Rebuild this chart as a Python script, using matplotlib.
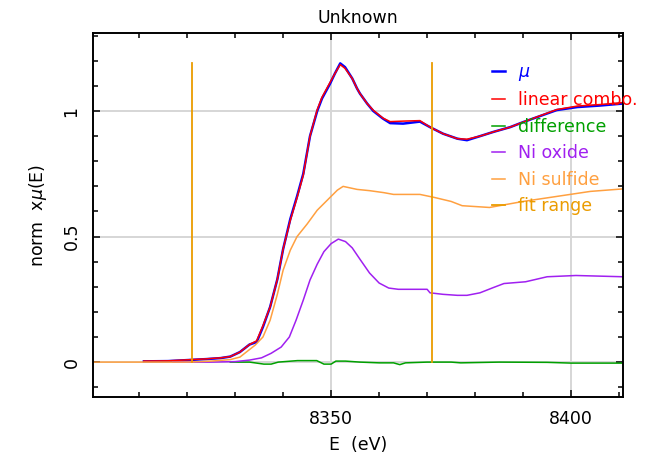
import matplotlib
matplotlib.use("Agg")
import matplotlib.pyplot as plt
from matplotlib.ticker import MultipleLocator

# data (energy in eV, normalised mu)
e_mu = [8311, 8316, 8320, 8324, 8327, 8329, 8331, 8333, 8334.5, 8335.8, 8337.3, 8338.8,
        8340, 8341.5, 8342.9, 8344.2, 8345.6, 8347.1, 8348.1, 8349.8, 8350.8, 8351.9,
        8352.9, 8354.4, 8355.4, 8356, 8357.5, 8358.8, 8360.8, 8362.3, 8365, 8368.5,
        8370.6, 8373.3, 8376.3, 8378.3, 8381, 8383.8, 8387.3, 8390, 8397, 8401.3,
        8406, 8410.8]
mu = [0.003, 0.004, 0.008, 0.012, 0.016, 0.022, 0.04, 0.07, 0.08, 0.14, 0.22, 0.33,
      0.45, 0.57, 0.66, 0.75, 0.90, 1.00, 1.05, 1.11, 1.15, 1.19,
      1.175, 1.13, 1.09, 1.07, 1.03, 1.00, 0.97, 0.952, 0.950, 0.958,
      0.936, 0.91, 0.89, 0.884, 0.90, 0.917, 0.936, 0.956, 1.004, 1.016,
      1.022, 1.03]
lin_combo = [0.004, 0.005, 0.009, 0.013, 0.017, 0.022, 0.04, 0.07, 0.085, 0.145, 0.22, 0.33,
             0.45, 0.565, 0.655, 0.745, 0.90, 1.005, 1.055, 1.115, 1.15, 1.185,
             1.17, 1.13, 1.09, 1.07, 1.03, 1.003, 0.972, 0.958, 0.960, 0.962,
             0.936, 0.91, 0.89, 0.888, 0.90, 0.917, 0.936, 0.956, 1.006, 1.02,
             1.026, 1.034]

e_diff = [8329, 8333, 8336, 8337.5, 8339, 8343, 8347, 8348.5, 8350, 8351, 8353, 8356,
          8360, 8363, 8364.3, 8365.5, 8370, 8375, 8377, 8385, 8395, 8400, 8410.8]
diff = [0, 0, -0.008, -0.008, 0, 0.006, 0.006, -0.008, -0.008, 0.004, 0.004, 0,
        -0.003, -0.003, -0.01, -0.003, 0, 0, -0.003, 0, -0.001, -0.004, -0.004]

e_oxide = [8317, 8325, 8330, 8333, 8335.5, 8337.5, 8339.6, 8341.3, 8342.7, 8344.2, 8345.6,
           8347.1, 8348.5, 8350, 8351.5, 8353, 8354.4, 8356, 8358, 8360, 8362,
           8364, 8370, 8370.6, 8373.3, 8376.3, 8378.3, 8381, 8383.8, 8386, 8390.5, 8395,
           8401, 8410.8]
oxide = [0, 0, 0.002, 0.008, 0.017, 0.035, 0.06, 0.10, 0.167, 0.247, 0.327,
         0.39, 0.44, 0.472, 0.49, 0.48, 0.455, 0.41, 0.355, 0.315, 0.295,
         0.29, 0.29, 0.276, 0.27, 0.266, 0.266, 0.276, 0.297, 0.313, 0.32, 0.34,
         0.345, 0.34]

e_sulfide = [8300.5, 8320, 8325, 8329, 8331, 8334.2, 8335.8, 8337.3, 8338.8, 8340, 8341.5,
             8342.9, 8345, 8347.1, 8349.2, 8351.3, 8352.5, 8355.4, 8358, 8361, 8363,
             8368.5, 8371.5, 8375, 8377.3, 8383, 8390, 8397, 8404, 8410.8]
sulfide = [0, 0, 0.004, 0.01, 0.02, 0.068, 0.10, 0.167, 0.27, 0.366, 0.446,
           0.50, 0.55, 0.605, 0.645, 0.685, 0.70, 0.688, 0.683, 0.675, 0.668,
           0.668, 0.656, 0.64, 0.623, 0.616, 0.64, 0.66, 0.68, 0.69]

fit_range = [8321, 8371]
fit_top = 1.19

fs = 12.5

fig = plt.figure(figsize=(6.52, 4.62), dpi=100)
ax = fig.add_axes([93 / 652, 1 - 397 / 462, 530 / 652, 364 / 462])

ax.plot(e_mu, mu, color="#0000ff", lw=1.8, label=r"$\mu$")
ax.plot(e_mu, lin_combo, color="#ff0000", lw=1.1, label="linear combo.")
ax.plot(e_diff, diff, color="#00a000", lw=1.1, label="difference")
ax.plot(e_oxide, oxide, color="#a020f0", lw=1.1, label="Ni oxide")
ax.plot(e_sulfide, sulfide, color="#ffa040", lw=1.1, label="Ni sulfide")
ax.plot([fit_range[0], fit_range[0], None, fit_range[1], fit_range[1]],
        [0, fit_top, None, 0, fit_top], color="#eb9c00", lw=1.3, label="fit range")

ax.set_xlim(8300.4, 8410.8)
ax.set_ylim(-0.139, 1.311)
ax.xaxis.set_major_locator(MultipleLocator(50))
ax.xaxis.set_minor_locator(MultipleLocator(10))
ax.yaxis.set_major_locator(MultipleLocator(0.5))
ax.yaxis.set_minor_locator(MultipleLocator(0.1))
ax.yaxis.set_major_formatter(matplotlib.ticker.FuncFormatter(lambda v, p: "%g" % v))
ax.grid(True, which="major", color="#d6d6d6", lw=1.4)
ax.set_axisbelow(True)

ax.tick_params(which="both", direction="in", top=True, right=True, labelsize=fs,
               width=1.1, colors="black")
ax.tick_params(which="major", length=5)
ax.tick_params(which="minor", length=3.5)
ax.tick_params(axis="x", pad=9)
ax.tick_params(axis="y", pad=9)
for lab in ax.get_yticklabels():
    lab.set_rotation(90)
    lab.set_va("center")
for sp in ax.spines.values():
    sp.set_linewidth(1.4)

ax.set_title("Unknown", fontsize=fs, pad=7)
ax.set_xlabel("E  (eV)", fontsize=fs, labelpad=6)
ax.set_ylabel(r"norm  x$\mu$(E)", fontsize=fs, labelpad=10)

ax.legend(loc="upper left", bbox_to_anchor=(0.753, 0.918), frameon=False,
          fontsize=fs, handlelength=0.75, handletextpad=0.75, labelspacing=0.49,
          borderpad=0, borderaxespad=0, labelcolor="linecolor")

fig.savefig("out.png", dpi=100)
